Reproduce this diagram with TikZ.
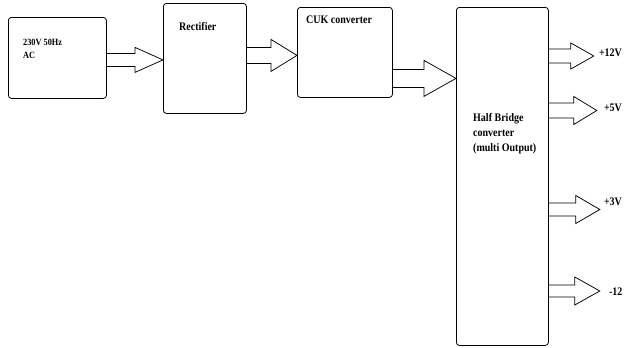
\documentclass[tikz,border=0pt]{standalone}
\usepackage{fontspec}
\setmainfont{Liberation Serif}
\newfontfamily\blockfont{Liberation Serif}[FakeStretch=0.87]
\usetikzlibrary{calc,positioning}

% #1 start, #2 tip, #3 half shaft, #4 half head, #5 head length
\newcommand{\fatarrow}[5]{%
  \draw[fatarr] ($(#1)+(0,-#3)$) -- ($(#2)+(-#5,-#3)$) -- ($(#2)+(-#5,-#4)$) -- (#2)
    -- ($(#2)+(-#5,#4)$) -- ($(#2)+(-#5,#3)$) -- ($(#1)+(0,#3)$);}

\begin{document}
\begin{tikzpicture}[
  x=1pt, y=-1pt,
  block/.style={draw, line width=0.8pt, rounded corners=3pt, anchor=north west, inner sep=0pt},
  blocktext/.style={anchor=north west, inner sep=0pt, align=left, font=\blockfont\bfseries\fontsize{11.5}{15}\selectfont},
  outtext/.style={anchor=west, inner sep=0pt, font=\blockfont\bfseries\fontsize{11.5}{12}\selectfont},
  fatarr/.style={draw, line width=0.75pt, line join=miter}
]
\useasboundingbox (0,0) rectangle (624,348);

\node [block, minimum width=98pt, minimum height=81pt] (ac) at (8,17) {};
\node [block, minimum width=83pt, minimum height=110pt] (rect) at (163,3) {};
\node [block, minimum width=95pt, minimum height=90pt] (cuk) at (297,7) {};
\node [block, minimum width=92pt, minimum height=338pt] (hb) at (456,7) {};

\node [blocktext, font=\blockfont\bfseries\fontsize{9.5}{13}\selectfont] (actext) at ($(ac.north west)+(15,22)$) {230V 50Hz\\AC};
\node [blocktext] (recttext) at ($(rect.north west)+(16,19)$) {Rectifier};
\node [blocktext] (cuktext) at ($(cuk.north west)+(9,9)$) {CUK converter};
\node [blocktext] (hbtext) at ($(hb.north west)+(17,106)$) {Half Bridge\\converter\\(multi Output)};

\coordinate (a1s) at ($(ac.east)+(0,2)$);
\coordinate (a1e) at (a1s -| rect.west);
\fatarrow{a1s}{a1e}{6.5}{12.5}{28}
\coordinate (a2s) at ($(rect.east)+(0,-3)$);
\coordinate (a2e) at (a2s -| cuk.west);
\fatarrow{a2s}{a2e}{8}{16}{26}
\coordinate (a3s) at ($(cuk.east)+(0,26)$);
\coordinate (a3e) at (a3s -| hb.west);
\fatarrow{a3s}{a3e}{9}{18}{32}

\foreach \yy/\hs/\hh/\len/\hl/\name/\txt/\dx/\dy in {
    56/7/13/45/23/o1/+12V/5/-3,
    110.5/7.5/14/48/23/o2/+5V/7/-3,
    209.5/6.5/14/51/24/o3/+3V/4/-8,
    291/6/14/51/25/o4/-12/9/1}{
  \coordinate (s\name) at (hb.east |- 0,\yy);
  \coordinate (e\name) at ($(s\name)+(\len,0)$);
  \fatarrow{s\name}{e\name}{\hs}{\hh}{\hl}
  \node [outtext] (l\name) at ($(e\name)+(\dx,\dy)$) {\txt};
}

\end{tikzpicture}
\end{document}
